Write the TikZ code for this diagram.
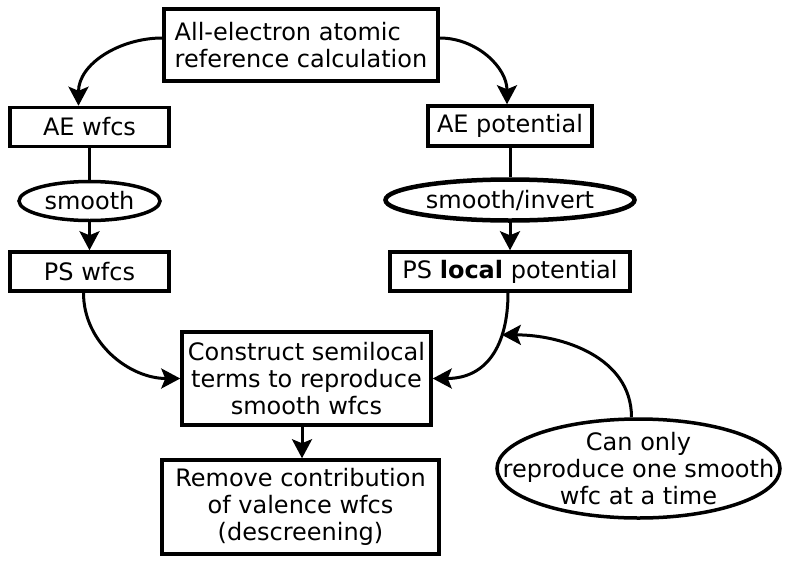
\documentclass[tikz,border=0pt]{standalone}
\usepackage{fontspec}
\setmainfont{DejaVu Sans}
\usetikzlibrary{arrows.meta,shapes.geometric}
\begin{document}
\begin{tikzpicture}[x=1pt,y=-1pt,
  txt/.style={inner sep=0pt, align=center, font=\fontsize{24}{27}\selectfont},
  box/.style={txt, draw, line width=3.5pt},
  oval/.style={txt, ellipse, draw, line width=3.5pt},
  conn/.style={line width=3pt},
  arr/.style={conn, -{Stealth[length=19pt,width=20pt,inset=4pt]}}]
\useasboundingbox (0,0) rectangle (793,560);
\node[box, align=left, minimum width=274pt, minimum height=72pt] (top) at (301,45) {All-electron atomic\\reference calculation};
\node[box, minimum width=159pt, minimum height=39pt] (aewfc) at (89.5,127) {AE wfcs};
\node[oval, minimum width=141pt, minimum height=39pt] (smooth) at (89.5,201) {smooth};
\node[box, minimum width=159pt, minimum height=39pt] (pswfc) at (89.5,271.5) {PS wfcs};
\node[box, minimum width=164pt, minimum height=40pt] (aepot) at (510,126) {AE potential};
\node[oval, line width=4.5pt, minimum width=249pt, minimum height=41pt] (sminv) at (510,200) {smooth/invert};
\node[box, minimum width=240pt, minimum height=39pt] (pslocal) at (510,271.5) {PS \textbf{local} potential};
\node[box, minimum width=249pt, minimum height=93pt] (construct) at (306.5,378.5) {Construct semilocal\\terms to reproduce\\smooth wfcs};
\node[box, minimum width=277pt, minimum height=94pt] (remove) at (300.5,507) {Remove contribution\\of valence wfcs\\(descreening)};
\node[ellipse, draw, line width=3.5pt, inner sep=0pt, minimum width=283pt, minimum height=99pt] (canonly) at (638.5,468.5) {};
\node[txt] (canonlytext) at (canonly.center) {Can only\\reproduce one smooth\\wfc at a time};
\draw[arr] ([yshift=7pt]top.west) to[out=180,in=90] ([xshift=-11pt]aewfc.north);
\draw[arr] ([yshift=7pt]top.east) to[out=0,in=90] ([xshift=-3pt]aepot.north);
\draw[conn] (aewfc) -- (smooth);
\draw[arr] (smooth) -- (pswfc);
\draw[conn] (aepot) -- (sminv);
\draw[arr] (sminv) -- (pslocal);
\draw[arr] ([xshift=-6pt]pswfc.south) to[out=-90,in=180] (construct.west);
\draw[arr] ([xshift=-2pt]pslocal.south) to[out=-90,in=0,looseness=1.2] coordinate[pos=0.3] (mid) (construct.east);
\draw[arr] ([xshift=-7pt]canonly.north) to[out=90,in=0] (mid);
\draw[arr] ([xshift=-4.5pt]construct.south) -- ([xshift=1.5pt]remove.north);
\end{tikzpicture}
\end{document}
